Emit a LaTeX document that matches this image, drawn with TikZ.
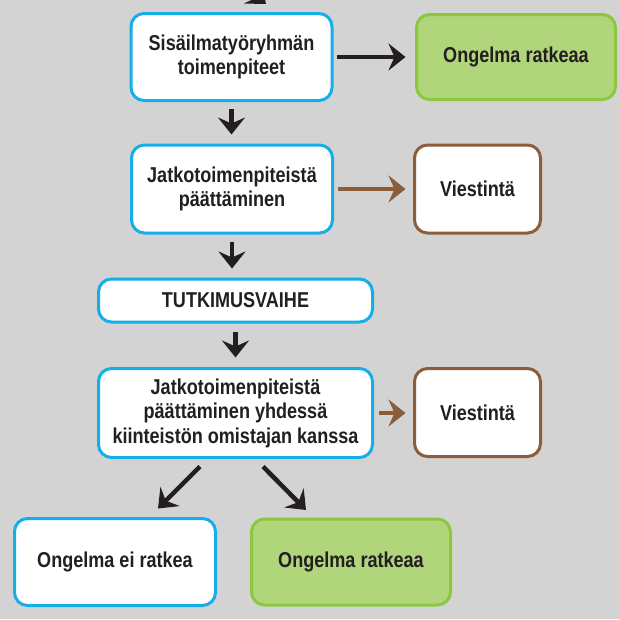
\documentclass[tikz,border=0pt]{standalone}
\usepackage{fontspec}
\setmainfont{Liberation Sans}[FakeStretch=0.84]
\usetikzlibrary{arrows.meta,calc}
\definecolor{bg}{HTML}{D3D3D3}
\definecolor{cyanb}{HTML}{16AEE8}
\definecolor{gfill}{HTML}{B1D57B}
\definecolor{gdraw}{HTML}{8DC73F}
\definecolor{brownc}{HTML}{8B5D3B}
\definecolor{txt}{HTML}{231F20}
\begin{document}
\begin{tikzpicture}[x=1pt,y=-1pt,
  box/.style={draw=cyanb, line width=3pt, rounded corners=13pt, fill=white, align=center,
    font=\fontsize{21.5}{24.5}\selectfont\bfseries, text=txt, inner sep=0pt},
  gbox/.style={box, draw=gdraw, fill=gfill},
  bbox/.style={box, draw=brownc},
  arr/.style={draw=txt, line width=4.5pt, -{Stealth[length=17pt,width=27pt,inset=6pt]}},
  barr/.style={arr, draw=brownc, fill=brownc}]
\useasboundingbox (0,0) rectangle (620,619);
\fill[bg] (0,0) rectangle (620,619);
\begin{scope}
  \clip (0,0) rectangle (620,619);
  \coordinate (topsrc) at (222,-50);
  \coordinate (topend) at (266,4);
  \draw[arr] (topsrc) .. controls (242,-16) .. (topend);
\end{scope}
\node[box, minimum width=201pt, minimum height=87pt] (s1) at (231.5,57) {Sisäilmatyöryhmän\\toimenpiteet};
\node[gbox, minimum width=199pt, minimum height=85pt] (g1) at (516,57) {Ongelma ratkeaa};
\node[box, minimum width=201pt, minimum height=88pt] (s2) at (232,189) {Jatkotoimenpiteistä\\päättäminen};
\node[bbox, minimum width=126pt, minimum height=88pt] (v1) at (477.5,189) {Viestintä};
\node[box, minimum width=274pt, minimum height=43pt] (t) at (235.5,300.5) {TUTKIMUSVAIHE};
\node[box, minimum width=274pt, minimum height=89pt] (s4) at (235.5,413) {Jatkotoimenpiteistä\\päättäminen yhdessä\\kiinteistön omistajan kanssa};
\node[bbox, minimum width=126pt, minimum height=88pt] (v2) at (477.5,412.5) {Viestintä};
\node[box, minimum width=201pt, minimum height=87pt] (bl) at (115,562) {Ongelma ei ratkea};
\node[gbox, minimum width=199pt, minimum height=86pt] (br) at (351,562) {Ongelma ratkeaa};
% connectors
\draw[arr, shorten <=3.5pt, shorten >=9.5pt] (s1.east) -- (g1.west);
\draw[arr, shorten <=6.5pt, shorten >=9pt] (s1.south) -- (s1.south |- s2.north);
\draw[arr, shorten <=7pt, shorten >=9pt] (s2.south) -- (s2.south |- t.north);
\draw[arr, shorten <=8pt, shorten >=9.5pt] (t.south) -- (t.south |- s4.north);
\draw[barr, shorten <=3.5pt, shorten >=7.5pt] (s2.east) -- (s2.east -| v1.west);
\draw[barr, shorten <=4.5pt, shorten >=7.5pt] (s4.east) -- (s4.east -| v2.west);
\draw[arr] ($(s4.south)+(-35.5,7.5)$) -- ($(bl.north)+(43,-8.5)$);
\draw[arr] ($(s4.south)+(27.5,7.5)$) -- ($(br.north)+(-45,-7.5)$);
\end{tikzpicture}
\end{document}
